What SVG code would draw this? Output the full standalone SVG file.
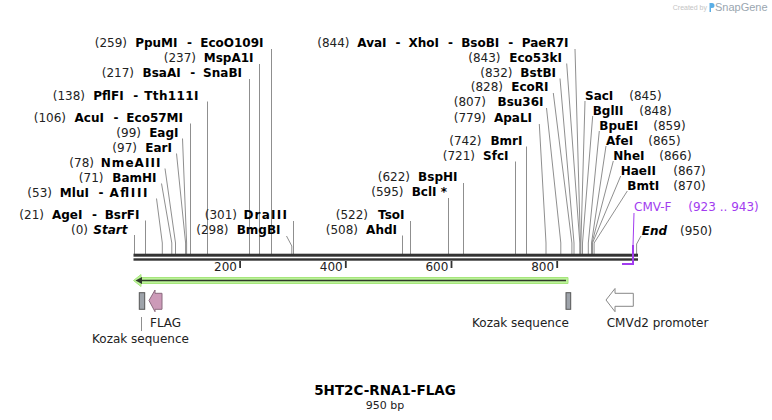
<svg xmlns="http://www.w3.org/2000/svg" width="772" height="420" viewBox="0 0 772 420">
<defs>
<style>
text{font-family:"DejaVu Sans",Verdana,sans-serif;font-size:12px}
.n{font-weight:bold;fill:#000}
.i{font-weight:bold;font-style:italic;fill:#000}
.p{fill:#222}
.e{text-anchor:end}
.m{text-anchor:middle}
.c path{stroke:#8f8f8f;stroke-width:1;fill:none}
.f{fill:#333}
.pr{fill:#a23cf0}
</style>
</defs>
<rect width="772" height="420" fill="#fff"/>

<g id="watermark">
<text x="707" y="10" class="e" style="font-family:'Liberation Sans',Arial,sans-serif;font-size:7px;fill:#c4c4c4">Created by</text>
<path d="M709.5,3 h2.5 a2.5,2.5 0 0 1 0,5 h-1 v4 h-1.5 z" fill="#5aaee6"/>
<text x="715" y="11" style="font-family:'Liberation Sans',Arial,sans-serif;font-size:11px;fill:#9aa6b0">SnapGene</text>
</g>

<g id="connectors" class="c">
<path d="M134.5,235 V254"/>
<path d="M145.5,220.5 V254"/>
<path d="M156.5,198.5 L162.3,243 V254"/>
<path d="M161.5,183.5 L171.8,243 V254"/>
<path d="M165,168.5 L175.5,243 V254"/>
<path d="M176.5,153.5 L185.6,243 V254"/>
<path d="M182.5,138.5 L186.6,243 V254"/>
<path d="M190.5,123.5 V254"/>
<path d="M207.5,101.5 V254"/>
<path d="M249.5,79 V254"/>
<path d="M259.5,64 V254"/>
<path d="M271.5,49 V254"/>
<path d="M293.5,221 V254"/>
<path d="M286.5,236 L291.8,246 V254"/>
<path d="M402.5,235.5 V254"/>
<path d="M410.5,221 V254"/>
<path d="M448.5,198 V254"/>
<path d="M463.5,183 V254"/>
<path d="M515.5,161.5 V254"/>
<path d="M526.5,146.5 V254"/>
<path d="M539.3,124 L546,243 V254"/>
<path d="M546.5,108 L560.8,243 V254"/>
<path d="M553.3,93 L571.9,243 V254"/>
<path d="M560,78.5 L574,243 V254"/>
<path d="M566.7,63.5 L579.8,243 V254"/>
<path d="M575,49 L580.4,243 V254"/>
<path d="M585,101 L580.9,243 V254"/>
<path d="M592.7,116 L582.5,243 V254"/>
<path d="M599.3,131 L588.3,243 V254"/>
<path d="M606,146 L591.5,243 V254"/>
<path d="M613.3,161 L592,243 V254"/>
<path d="M620.7,176 L592.5,243 V254"/>
<path d="M627.3,191 L594.1,243 V254"/>
<path d="M641,236 L636.6,244 V254"/>
<path d="M141.5,317 V331"/>
</g>

<g id="backbone">
<rect x="133.5" y="253.7" width="504.5" height="3" class="f"/>
<rect x="133.5" y="258.3" width="504.5" height="2.4" class="f"/>
<rect x="239.2" y="261" width="1.8" height="7" class="f"/>
<rect x="344.9" y="261" width="1.8" height="7" class="f"/>
<rect x="450.6" y="261" width="1.8" height="7" class="f"/>
<rect x="556.3" y="261" width="1.8" height="7" class="f"/>
<g style="font-size:10.5px;fill:#222" class="e">
<text x="237" y="271">200</text>
<text x="342.7" y="271">400</text>
<text x="448.4" y="271">600</text>
<text x="554.1" y="271">800</text>
</g>
</g>

<g id="n_PpuMI"><text y="47"><tspan x="127" class="p e">(259)</tspan></text><text y="47" class="n e" x="177.5">PpuMI</text><text y="47" class="n m" x="189.5">-</text><text y="47" class="n e" x="263.5">EcoO109I</text></g>
<g id="n_MspA1I"><text y="62" x="196" class="p e">(237)</text><text y="62" x="253.5" class="n e">MspA1I</text></g>
<g id="n_BsaAI"><text y="77" x="134" class="p e">(217)</text><text y="77" x="180.7" class="n e">BsaAI</text><text y="77" x="192.7" class="n m">-</text><text y="77" x="242" class="n e">SnaBI</text></g>
<g id="n_PflFI"><text y="99.5" x="85" class="p e">(138)</text><text y="99.5" x="123.7" class="n e">PflFI</text><text y="99.5" x="135.7" class="n m">-</text><text y="99.5" x="198.5" class="n e" textLength="54.3">Tth111I</text></g>
<g id="n_AcuI"><text y="121.5" x="66" class="p e">(106)</text><text y="121.5" x="104" class="n e">AcuI</text><text y="121.5" x="116" class="n m">-</text><text y="121.5" x="183" class="n e">Eco57MI</text></g>
<g id="n_EagI"><text y="136.5" x="141" class="p e">(99)</text><text y="136.5" x="178.5" class="n e">EagI</text></g>
<g id="n_EarI"><text y="151.5" x="137" class="p e">(97)</text><text y="151.5" x="172" class="n e">EarI</text></g>
<g id="n_NmeAIII"><text y="166.5" x="94" class="p e">(78)</text><text y="166.5" x="100.7" class="n" textLength="59.8">NmeAIII</text></g>
<g id="n_BamHI"><text y="181.5" x="103.5" class="p e">(71)</text><text y="181.5" x="156.5" class="n e">BamHI</text></g>
<g id="n_MluI"><text y="196.5" x="52" class="p e">(53)</text><text y="196.5" x="88.9" class="n e">MluI</text><text y="196.5" x="100.9" class="n m">-</text><text y="196.5" x="109.4" class="n" textLength="38.1">AflIII</text></g>
<g id="n_AgeI"><text y="218.5" x="44" class="p e">(21)</text><text y="218.5" x="82.4" class="n e">AgeI</text><text y="218.5" x="94.4" class="n m">-</text><text y="218.5" x="139.5" class="n e">BsrFI</text></g>
<g id="n_Start"><text y="233.5" x="88" class="p e">(0)</text><text y="233.5" x="127.5" class="i e">Start</text></g>
<g id="n_DraIII"><text y="218.5" x="237" class="p e">(301)</text><text y="218.5" x="243.4" class="n" textLength="43.6">DraIII</text></g>
<g id="n_BmgBI"><text y="233.5" x="228.5" class="p e">(298)</text><text y="233.5" x="280.5" class="n e">BmgBI</text></g>
<g id="n_AhdI"><text y="233.5" x="358" class="p e">(508)</text><text y="233.5" x="397" class="n e">AhdI</text></g>
<g id="n_TsoI"><text y="218.5" x="368" class="p e">(522)</text><text y="218.5" x="404.5" class="n e">TsoI</text></g>
<g id="n_BclI"><text y="196" x="403.5" class="p e">(595)</text><text y="196" x="447" class="n e">BclI *</text></g>
<g id="n_BspHI"><text y="181" x="410" class="p e">(622)</text><text y="181" x="457.5" class="n e">BspHI</text></g>
<g id="n_SfcI"><text y="159.5" x="475" class="p e">(721)</text><text y="159.5" x="508.5" class="n e">SfcI</text></g>
<g id="n_BmrI"><text y="144.5" x="481.5" class="p e">(742)</text><text y="144.5" x="522.5" class="n e">BmrI</text></g>
<g id="n_ApaLI"><text y="121.5" x="486" class="p e">(779)</text><text y="121.5" x="532" class="n e">ApaLI</text></g>
<g id="n_Bsu36I"><text y="105.5" x="486" class="p e">(807)</text><text y="105.5" x="543.5" class="n e">Bsu36I</text></g>
<g id="n_EcoRI"><text y="91" x="503" class="p e">(828)</text><text y="91" x="548.5" class="n e">EcoRI</text></g>
<g id="n_BstBI"><text y="76.5" x="512.5" class="p e">(832)</text><text y="76.5" x="556" class="n e">BstBI</text></g>
<g id="n_Eco53kI"><text y="61.5" x="500.5" class="p e">(843)</text><text y="61.5" x="562" class="n e">Eco53kI</text></g>
<g id="n_AvaI"><text y="47" x="349.5" class="p e">(844)</text><text y="47" x="386.6" class="n e">AvaI</text><text y="47" x="398" class="n m">-</text><text y="47" x="439.1" class="n e">XhoI</text><text y="47" x="450.6" class="n m">-</text><text y="47" x="499.3" class="n e">BsoBI</text><text y="47" x="510.8" class="n m">-</text><text y="47" x="568.5" class="n e">PaeR7I</text></g>

<g id="n_SacI"><text y="99.5" x="585" class="n">SacI</text><text y="99.5" x="629.3" class="p">(845)</text></g>
<g id="n_BglII"><text y="114.5" x="592.7" class="n">BglII</text><text y="114.5" x="639.3" class="p">(848)</text></g>
<g id="n_BpuEI"><text y="129.5" x="599.3" class="n">BpuEI</text><text y="129.5" x="653.3" class="p">(859)</text></g>
<g id="n_AfeI"><text y="144.5" x="606" class="n">AfeI</text><text y="144.5" x="648.3" class="p">(865)</text></g>
<g id="n_NheI"><text y="159.5" x="613.3" class="n">NheI</text><text y="159.5" x="659.3" class="p">(866)</text></g>
<g id="n_HaeII"><text y="174.5" x="620.7" class="n">HaeII</text><text y="174.5" x="673.3" class="p">(867)</text></g>
<g id="n_BmtI"><text y="189.5" x="627.3" class="n">BmtI</text><text y="189.5" x="673.3" class="p">(870)</text></g>
<g id="n_End"><text y="234.5" x="641.7" class="i">End</text><text y="234.5" x="680" class="p">(950)</text></g>

<g id="n_CMV-F">
<text y="211" x="634" class="pr">CMV-F</text><text y="211" x="688.3" class="pr">(923 .. 943)</text>
<path d="M634,213 L633,246" stroke="#a23cf0" stroke-width="1" fill="none"/>
<path d="M633,245 V264 H622" stroke="#a23cf0" stroke-width="2" fill="none"/>
</g>

<g id="n_ORF">
<polygon points="133.5,280.5 141,274.5 141,277.5 568,277.5 568,283.5 141,283.5 141,286.5" fill="#bdf49a" stroke="#a6e67c" stroke-width="1"/>
<path d="M139,280.5 H566" stroke="#2f3a2a" stroke-width="1.6"/>
<polygon points="135.5,280.5 142,277 142,284" fill="#2f3a2a"/>
</g>

<g id="n_Kozak1">
<rect x="139.3" y="292.7" width="5.4" height="16.6" fill="#9ea3aa" stroke="#555" stroke-width="1"/>
<text x="140.5" y="342.5" class="p m">Kozak sequence</text>
</g>
<g id="n_FLAG">
<polygon points="149,300.5 155,290 155,293.3 162,293.3 162,309.3 155,309.3 155,311.7" fill="#cc9ab8" stroke="#8a6a7e" stroke-width="1"/>
<text x="150" y="326.5" class="p">FLAG</text>
</g>
<g id="n_Kozak2">
<rect x="566" y="292.7" width="4.7" height="16.6" fill="#9ea3aa" stroke="#555" stroke-width="1"/>
<text x="520.5" y="326.5" class="p m">Kozak sequence</text>
</g>
<g id="n_CMVd2">
<polygon points="606,300 615,288.5 615,293.3 633.3,293.3 633.3,306.3 615,306.3 615,311.7" fill="#fff" stroke="#888" stroke-width="1"/>
<text x="606.7" y="326.5" class="p">CMVd2 promoter</text>
</g>

<g id="title">
<text x="385" y="394.5" class="n m" style="font-size:13.5px">5HT2C-RNA1-FLAG</text>
<text x="385" y="408.5" class="p m" style="font-size:11px">950 bp</text>
</g>
</svg>
